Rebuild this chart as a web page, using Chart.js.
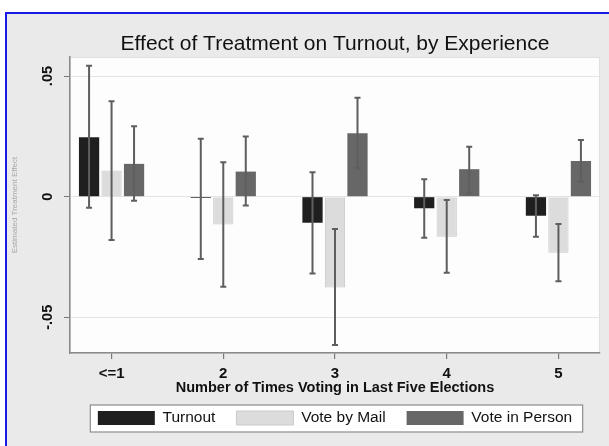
<!DOCTYPE html>
<html>
<head>
<meta charset="utf-8">
<script src="https://cdn.jsdelivr.net/npm/chart.js@4.4.1/dist/chart.umd.min.js"></script>
<style>
  html, body { margin: 0; padding: 0; background: #fff; }
  #frame { position: absolute; left: 5px; top: 12px; width: 602px; height: 432px;
    border-left: 2px solid #1a1ae6; border-top: 2px solid #1a1ae6; background: #eaeaea; }
  #myChart { display: block; width: 602px; height: 432px; }
</style>
</head>
<body>
<div id="frame"><canvas id="myChart" width="602" height="432"></canvas></div>
<script>
"use strict";

const categories = ['<=1', '2', '3', '4', '5'];
const yTicks = [-0.05, 0, 0.05];

const turnout = [0.0246, -0.0005, -0.0108, -0.0048, -0.0079];
const turnoutLo = [-0.0046, -0.0258, -0.0318, -0.0170, -0.0166];
const turnoutHi = [0.0543, 0.0240, 0.0101, 0.0072, 0.0006];

const voteByMail = [0.0108, -0.0115, -0.0377, -0.0166, -0.0232];
const mailLo = [-0.0180, -0.0373, -0.0615, -0.0315, -0.0351];
const mailHi = [0.0396, 0.0143, -0.0134, -0.0014, -0.0113];

const voteInPerson = [0.0136, 0.0104, 0.0263, 0.0114, 0.0148];
const personLo = [-0.0017, -0.0037, 0.0118, 0.0014, 0.0062];
const personHi = [0.0292, 0.0249, 0.0410, 0.0207, 0.0235];

Chart.defaults.font.family = '"Liberation Sans", Arial, sans-serif';
Chart.defaults.color = '#111';

// bars sit on a linear x scale so the group spacing matches the original
const toPoints = values => values.map((v, i) => ({x: i, y: v}));

// white plot region + framed legend box, like the Stata graph
const panel = {
  id: 'panel',
  beforeDraw(chart) {
    const {ctx, chartArea: a, legend} = chart;
    ctx.save();
    ctx.fillStyle = '#fdfdfd';
    ctx.fillRect(a.left, a.top, a.right - a.left, a.bottom - a.top);
    ctx.strokeStyle = '#e0e0e0';
    ctx.lineWidth = 1;
    ctx.strokeRect(a.left + 0.5, a.top + 0.5, a.right - a.left - 1, a.bottom - a.top);
    const hb = legend.legendHitBoxes;
    if (hb && hb.length) {
      const last = hb[hb.length - 1];
      const l = hb[0].left - 7.5, r = last.left + last.width + 10.5;
      const t = hb[0].top - 5.25, b = hb[0].top + hb[0].height + 6.25;
      ctx.fillStyle = '#fff';
      ctx.fillRect(l, t, r - l, b - t);
      ctx.strokeStyle = '#8c8c8c';
      ctx.lineWidth = 1.2;
      ctx.strokeRect(l, t, r - l, b - t);
    }
    ctx.restore();
  }
};

const errorBars = {
  id: 'errorBars',
  afterDatasetsDraw(chart) {
    const {ctx, scales: {y}} = chart;
    ctx.save();
    ctx.strokeStyle = '#5e5e5e';
    ctx.lineWidth = 2;
    chart.data.datasets.forEach((ds, d) => {
      chart.getDatasetMeta(d).data.forEach((bar, i) => {
        const top = y.getPixelForValue(ds.errHi[i]);
        const bottom = y.getPixelForValue(ds.errLo[i]);
        ctx.beginPath();
        ctx.moveTo(bar.x, top); ctx.lineTo(bar.x, bottom);
        ctx.moveTo(bar.x - 3, top); ctx.lineTo(bar.x + 3, top);
        ctx.moveTo(bar.x - 3, bottom); ctx.lineTo(bar.x + 3, bottom);
        ctx.stroke();
      });
    });
    ctx.restore();
  }
};

const ctx = document.getElementById('myChart').getContext('2d');
const chart = new Chart(ctx, {
  type: 'bar',
  data: {
    datasets: [
      {label: 'Turnout', data: toPoints(turnout), errLo: turnoutLo, errHi: turnoutHi,
       backgroundColor: '#1f1f1f', borderColor: '#1f1f1f', borderWidth: 0},
      {label: 'Vote by Mail', data: toPoints(voteByMail), errLo: mailLo, errHi: mailHi,
       backgroundColor: '#dcdcdc', borderColor: '#cacaca', borderWidth: 1},
      {label: 'Vote in Person', data: toPoints(voteInPerson), errLo: personLo, errHi: personHi,
       backgroundColor: '#676767', borderColor: '#676767', borderWidth: 0}
    ]
  },
  options: {
    responsive: false,
    animation: false,
    categoryPercentage: 0.604,
    barPercentage: 0.9,
    layout: {padding: {top: 0, left: 0, right: 9, bottom: 10.25}},
    plugins: {
      title: {
        display: true,
        fullSize: false,
        text: 'Effect of Treatment on Turnout, by Experience',
        font: {size: 21, weight: 'normal'},
        color: '#111',
        padding: {top: 17.3, bottom: 0.5}
      },
      legend: {
        position: 'bottom',
        fullSize: false,
        labels: {boxWidth: 57, boxHeight: 14, padding: 21, font: {size: 15.5}, color: '#111'}
      },
      tooltip: {enabled: false}
    },
    scales: {
      x: {
        type: 'linear',
        offset: false,
        min: -0.372,
        max: 4.372,
        afterBuildTicks: s => { s.ticks = categories.map((c, i) => ({value: i})); },
        afterFit: s => { s.height = 36.25; },
        grid: {offset: false, drawOnChartArea: false, tickLength: 6, tickColor: '#777', lineWidth: 1.2},
        border: {color: '#8a8a8a', width: 1.5},
        ticks: {
          callback: v => categories[v],
          font: {size: 15, weight: 'bold'},
          color: '#111',
          padding: 6,
          maxRotation: 0
        },
        title: {
          display: true,
          text: 'Number of Times Voting in Last Five Elections',
          font: {size: 14.5, weight: 'bold'},
          color: '#111',
          padding: {top: 0, bottom: -7.45}
        }
      },
      y: {
        min: -0.0648,
        max: 0.0579,
        afterBuildTicks: s => { s.ticks = yTicks.map(v => ({value: v})); },
        afterFit: s => { s.width = 63; },
        grid: {color: '#e4e4e4', lineWidth: 1, tickLength: 6, tickColor: '#777'},
        border: {color: '#8a8a8a', width: 1.5},
        ticks: {
          callback: v => v === 0 ? '0' : (v < 0 ? '-' : '') + '.05',
          font: {size: 14.5, weight: 'bold'},
          color: '#111',
          minRotation: 90,
          maxRotation: 90,
          crossAlign: 'center',
          padding: 3.5
        },
        title: {
          display: true,
          text: 'Estimated Treatment Effect',
          font: {size: 8},
          color: '#a8a8a8',
          padding: {top: 2.5, bottom: 0}
        }
      }
    }
  },
  plugins: [panel, errorBars]
});
</script>
</body>
</html>
